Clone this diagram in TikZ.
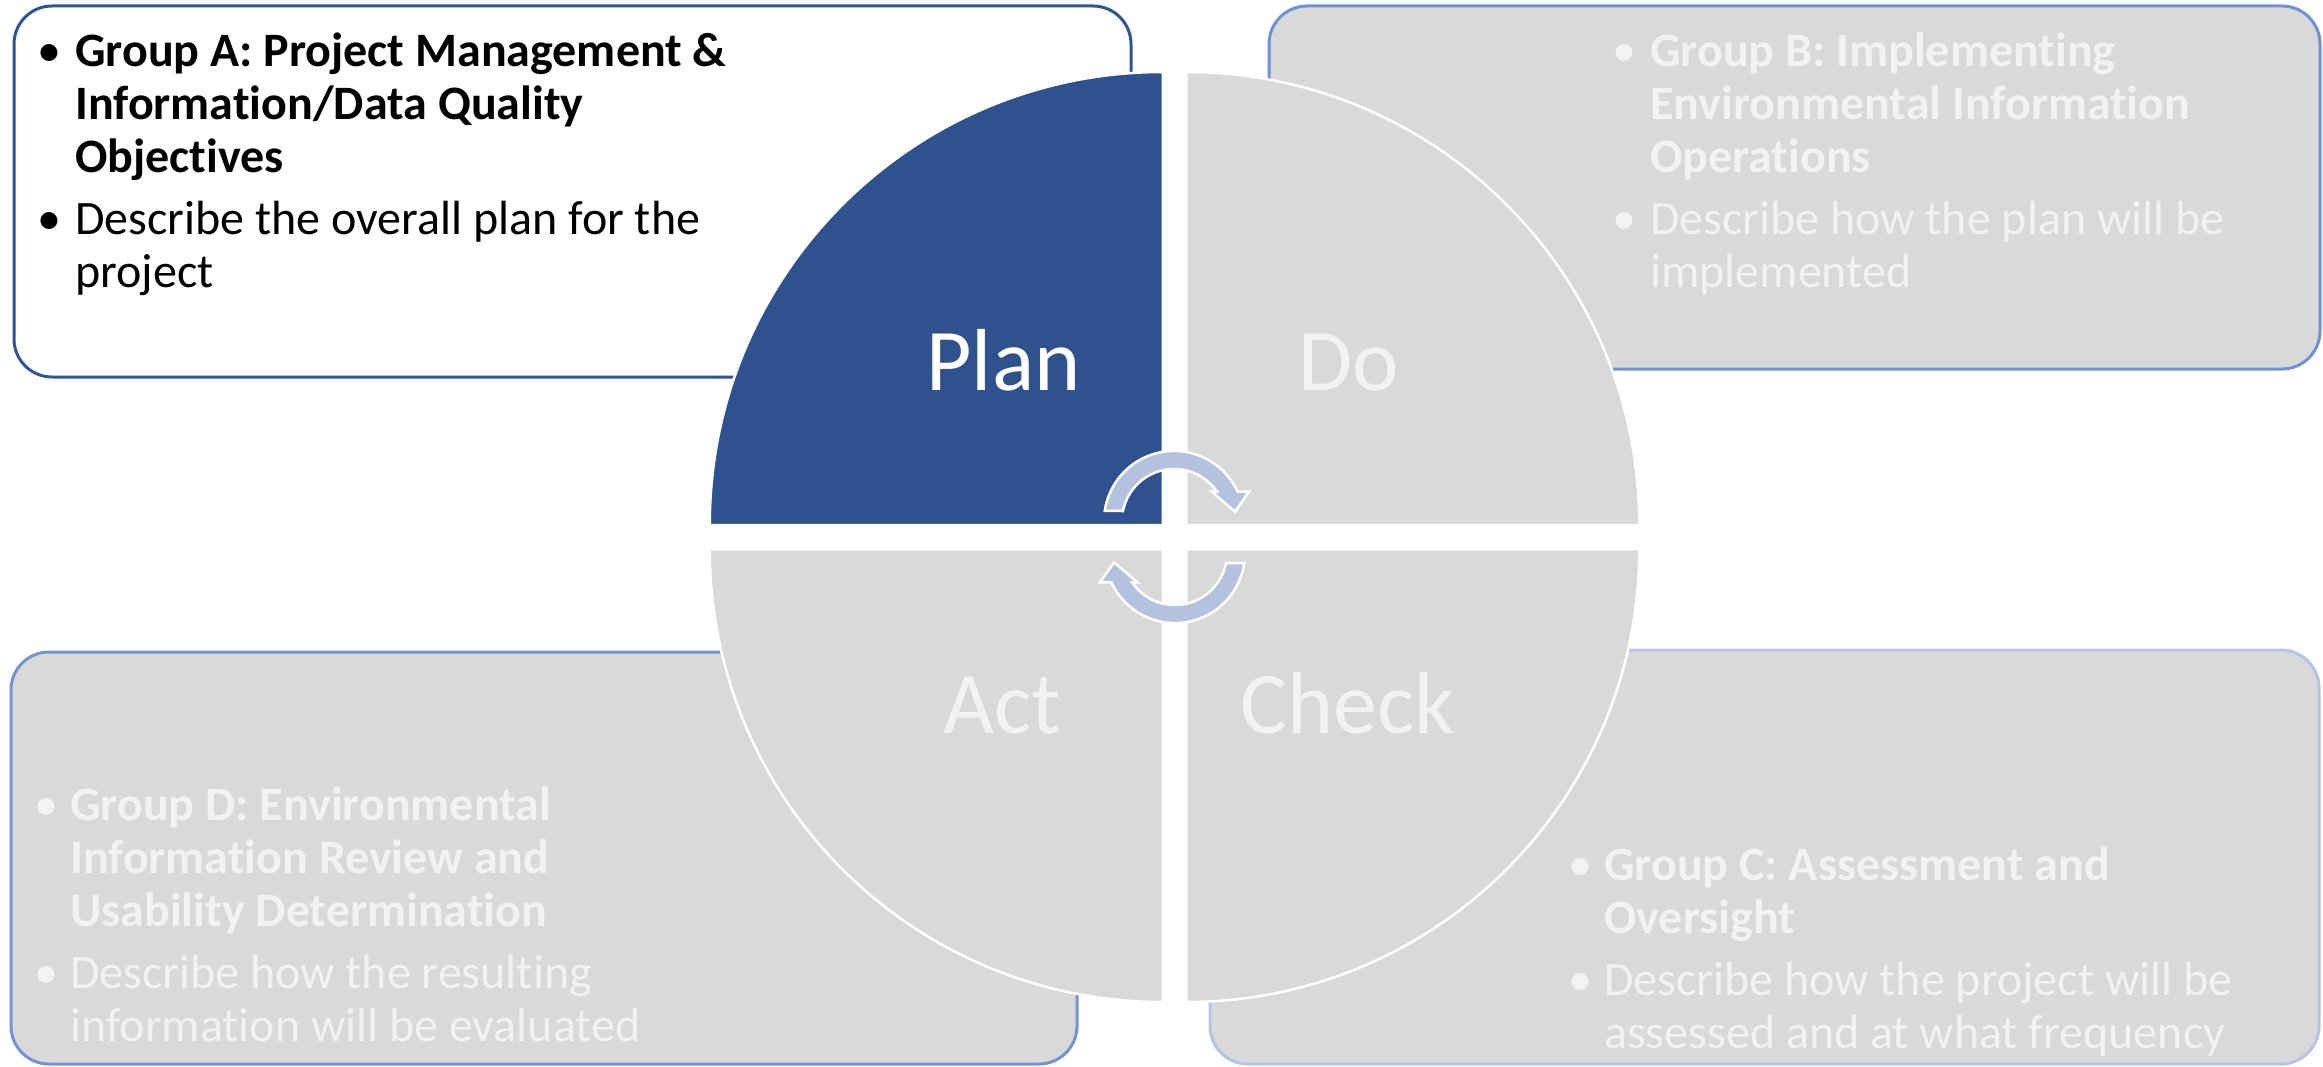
\documentclass[tikz,border=0pt]{standalone}
\usepackage{fontspec}
\setmainfont{Carlito}[Ligatures=CommonOff]
\definecolor{planblue}{HTML}{2F528F}
\definecolor{piecegray}{HTML}{D9D9D9}
\definecolor{lighttext}{HTML}{F2F2F2}
\definecolor{boxAline}{HTML}{2F5597}
\definecolor{boxBline}{HTML}{7092D4}
\definecolor{boxDline}{HTML}{7393D3}
\definecolor{boxCline}{HTML}{B4C4E6}
\definecolor{arrowfill}{HTML}{B4C2E0}
\newcommand\bulA{\llap{\makebox[52pt][c]{\textbullet}}}
\newcommand\bulC{\llap{\makebox[48pt][c]{\textbullet}}}
\tikzset{
  groupbox/.style={line width=3pt, rounded corners=38pt},
  piece/.style={draw=white, line width=2.5pt, line join=round},
  cyclearrow/.style={fill=arrowfill, draw=white, line width=2.5pt, line join=miter},
  bodytext/.style={font=\fontsize{48}{53}\selectfont, inner sep=0pt, anchor=base west},
  quadlabel/.style={font=\fontsize{88}{100}\selectfont, inner sep=0pt, anchor=base},
}
\begin{document}
\begin{tikzpicture}[x=1pt,y=-1pt]
\useasboundingbox (0,0) rectangle (2323,1067);
\fill[white] (0,0) rectangle (2323,1067);

% group boxes
\draw[groupbox, draw=boxAline, fill=white] (14,6) rectangle (1131,377);
\draw[groupbox, draw=boxBline, fill=piecegray] (1269,6) rectangle (2320,369);
\draw[groupbox, draw=boxDline, fill=piecegray] (11,652) rectangle (1077,1064);
\draw[groupbox, draw=boxCline, fill=piecegray] (1210,650) rectangle (2319,1064);

% quadrant pieces
\path[piece, fill=planblue] (1162.75,525) -- ++(-453,0) arc[start angle=180, end angle=270, radius=453] -- cycle;
\path[piece, fill=piecegray] (1186.25,525) -- ++(0,-453) arc[start angle=270, end angle=360, radius=453] -- cycle;
\path[piece, fill=piecegray] (1186.25,549) -- ++(453,0) arc[start angle=0, end angle=90, radius=453] -- cycle;
\path[piece, fill=piecegray] (1162.75,549) -- ++(0,453) arc[start angle=90, end angle=180, radius=453] -- cycle;

% quadrant labels
\node[quadlabel, text=white] (plan) at (1003.4,390.7) {Plan};
\node[quadlabel, text=lighttext] (do) at (1348.5,390.7) {Do};
\node[quadlabel, text=lighttext] (act) at (1002.5,733) {Act};
\node[quadlabel, text=lighttext] (check) at (1347.5,733) {Check};

% circular arrows
\path[cyclearrow] (1123,511) arc[start angle=-168.9, end angle=-34.3, radius=52]
  -- (1211.7,491.7) -- (1235,511.7) -- (1249,491.7) -- (1237.6,491.7)
  arc[start angle=-24.7, end angle=-171.8, radius=70] -- cycle;
\begin{scope}[rotate around={180:(1174.5,537)}]
\path[cyclearrow] (1123,511) arc[start angle=-168.9, end angle=-34.3, radius=52]
  -- (1211.7,491.7) -- (1235,511.7) -- (1249,491.7) -- (1237.6,491.7)
  arc[start angle=-24.7, end angle=-171.8, radius=70] -- cycle;
\end{scope}

% box texts
\node[bodytext, text=black] (texta) at (75,67) {\begin{tabular}[t]{@{}l@{}}
\bulA\textbf{Group A: Project Management \&}\\
\textbf{Information/Data Quality}\\
\textbf{Objectives}\\[9pt]
\bulA Describe the overall plan for the\\
project
\end{tabular}};
\node[bodytext, text=lighttext] (textb) at (1650,67) {\begin{tabular}[t]{@{}l@{}}
\bulA\textbf{Group B: Implementing}\\
\textbf{Environmental Information}\\
\textbf{Operations}\\[9pt]
\bulA Describe how the plan will be\\
implemented
\end{tabular}};
\node[bodytext, text=lighttext] (textd) at (70,820) {\begin{tabular}[t]{@{}l@{}}
\bulC\textbf{Group D: Environmental}\\
\textbf{Information Review and}\\
\textbf{Usability Determination}\\[9pt]
\bulC Describe how the resulting\\
information will be evaluated
\end{tabular}};
\node[bodytext, text=lighttext] (textc) at (1604,880) {\begin{tabular}[t]{@{}l@{}}
\bulC\textbf{Group C: Assessment and}\\
\textbf{Oversight}\\[9pt]
\bulC Describe how the project will be\\
assessed and at what frequency
\end{tabular}};
\end{tikzpicture}
\end{document}
